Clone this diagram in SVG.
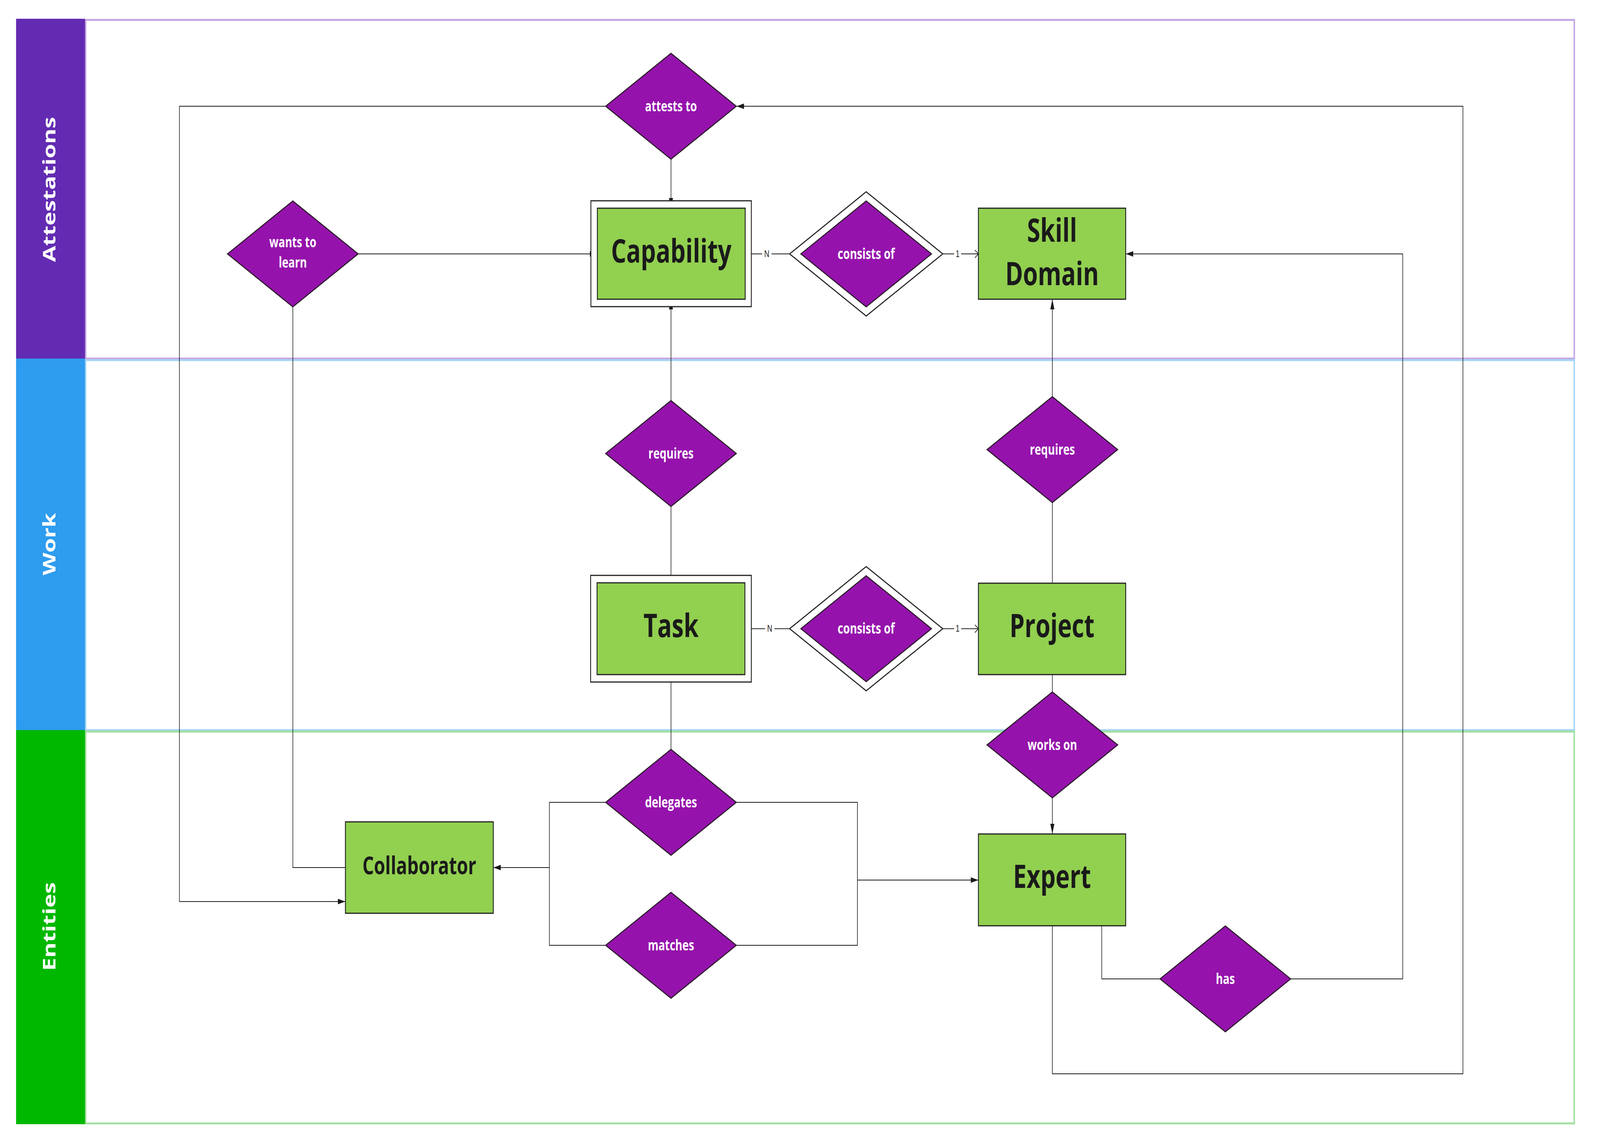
<svg xmlns="http://www.w3.org/2000/svg" width="5475" height="2921" viewBox="0 0 5475 2921" preserveAspectRatio="none">
<style>
svg{width:100vw;height:100vh;display:block}
.hdrtxt{font-family:"Open Sans","Liberation Sans",sans-serif;font-weight:700;font-size:60px;fill:#ffffff;text-anchor:middle}
.ent{fill:#92d050;stroke:#222222;stroke-width:3}
.entout{fill:#ffffff;stroke:#222222;stroke-width:3}
.enttxt{font-family:"Open Sans","Liberation Sans",sans-serif;font-weight:700;font-size:82px;fill:#1a1a1a;text-anchor:middle}
.rel{fill:#9513ac;stroke:#2a1a2a;stroke-width:3}
.relout{fill:#ffffff;stroke:#222222;stroke-width:3}
.reltxt{font-family:"Open Sans","Liberation Sans",sans-serif;font-weight:700;font-size:37px;fill:#ffffff;text-anchor:middle}
.con{fill:none;stroke:#1a1a1a;stroke-width:2}
.card{font-family:"Liberation Sans",Arial,sans-serif;font-size:24px;fill:#1a1a1a;text-anchor:middle}
</style>
<defs>
<marker id="arr" markerUnits="userSpaceOnUse" markerWidth="26" markerHeight="14" refX="26" refY="7" orient="auto" viewBox="0 0 26 14">
<path d="M0,0 L26,7 L0,14 z" fill="#1a1a1a"/>
</marker>
<marker id="open" markerUnits="userSpaceOnUse" markerWidth="14" markerHeight="22" refX="13" refY="11" orient="auto" viewBox="0 0 14 22">
<path d="M1,1 L13,11 L1,21" fill="none" stroke="#1a1a1a" stroke-width="2"/>
</marker>
</defs>
<rect width="5475" height="2921" fill="#ffffff"/>

<g id="lanes">
<g id="lane-attestations">
<rect x="293" y="51" width="5094" height="867" fill="none" stroke="#c4a6e2" stroke-width="5"/>
<rect x="55" y="48" width="236" height="870" fill="#632bb2"/>
<text class="hdrtxt" transform="translate(168,485) rotate(-90)" y="22">Attestations</text>
</g>
<g id="lane-work">
<rect x="293" y="922" width="5094" height="947" fill="none" stroke="#a8d6f6" stroke-width="5"/>
<rect x="55" y="918" width="236" height="951" fill="#2e9cef"/>
<text class="hdrtxt" transform="translate(168,1393) rotate(-90)" y="22">Work</text>
</g>
<g id="lane-entities">
<rect x="293" y="1873" width="5094" height="1003" fill="none" stroke="#a0e0a0" stroke-width="5"/>
<rect x="55" y="1869" width="236" height="1009" fill="#00b800"/>
<text class="hdrtxt" transform="translate(168,2372) rotate(-90)" y="22">Entities</text>
</g>
</g>

<g id="connectors">
<path class="con" d="M2296,408 L2296,533" marker-end="url(#arr)"/>
<path class="con" d="M2072,272 L614,272 L614,2308 L1182,2308" marker-end="url(#arr)"/>
<path class="con" d="M3601,2370 L3601,2749 L5006,2749 L5006,272 L2520,272" marker-end="url(#arr)"/>
<path class="con" d="M1226,650 L2044,650" marker-end="url(#arr)"/>
<path class="con" d="M1002,786 L1002,2221 L1182,2221"/>
<path class="con" d="M2571,650 L2608,650"/>
<path class="con" d="M2640,650 L2702,650"/>
<text class="card" x="2624" y="658">N</text>
<path class="con" d="M3226,650 L3265,650"/>
<text class="card" x="3277" y="658">1</text>
<path class="con" d="M3289,650 L3348,650" marker-end="url(#open)"/>
<path class="con" d="M2296,1025 L2296,766" marker-end="url(#arr)"/>
<path class="con" d="M2296,1297 L2296,1492"/>
<path class="con" d="M3601,1015 L3601,766" marker-end="url(#arr)"/>
<path class="con" d="M3601,1287 L3601,1493"/>
<path class="con" d="M2571,1609.5 L2618,1609.5"/>
<path class="con" d="M2650,1609.5 L2702,1609.5"/>
<text class="card" x="2634" y="1617.5">N</text>
<path class="con" d="M3226,1609.5 L3265,1609.5"/>
<text class="card" x="3277" y="1617.5">1</text>
<path class="con" d="M3289,1609.5 L3348,1609.5" marker-end="url(#open)"/>
<path class="con" d="M3601,1727 L3601,1771"/>
<path class="con" d="M3601,2043 L3601,2135" marker-end="url(#arr)"/>
<path class="con" d="M2296,1746 L2296,1918"/>
<path class="con" d="M2072,2054 L1880,2054 L1880,2420 L2072,2420"/>
<path class="con" d="M1880,2221 L1688,2221" marker-end="url(#arr)"/>
<path class="con" d="M2520,2054 L2934,2054 L2934,2420 L2520,2420"/>
<path class="con" d="M2934,2253 L3348,2253" marker-end="url(#arr)"/>
<path class="con" d="M3770,2370 L3770,2506 L3969,2506"/>
<path class="con" d="M4417,2506 L4800,2506 L4800,650 L3852,650" marker-end="url(#arr)"/>
</g>

<g id="node-attests-to">
<polygon class="rel" points="2072.5,272 2296,136.5 2519.5,272 2296,407.5"/>
<text class="reltxt" x="2296" y="285">attests to</text>
</g>
<g id="node-wants-to-learn">
<polygon class="rel" points="778.5,650 1002,514.5 1225.5,650 1002,785.5"/>
<text class="reltxt" x="1002" y="633">wants to</text>
<text class="reltxt" x="1002" y="685">learn</text>
</g>
<g id="node-capability">
<rect class="entout" x="2022" y="514" width="549" height="271"/>
<rect class="ent" x="2044" y="533" width="506" height="233"/>
<text class="enttxt" x="2297" y="672">Capability</text>
</g>
<g id="node-consists-of-1">
<polygon class="relout" points="2702,650 2964,491 3226,650 2964,809"/>
<polygon class="rel" points="2740.5,650 2964,514.5 3187.5,650 2964,785.5"/>
<text class="reltxt" x="2964" y="663">consists of</text>
</g>
<g id="node-skill-domain">
<rect class="ent" x="3348" y="533" width="504" height="233"/>
<text class="enttxt" x="3600" y="619">Skill</text>
<text class="enttxt" x="3600" y="730">Domain</text>
</g>
<g id="node-requires-1">
<polygon class="rel" points="2072.5,1161 2296,1025.5 2519.5,1161 2296,1296.5"/>
<text class="reltxt" x="2296" y="1174">requires</text>
</g>
<g id="node-requires-2">
<polygon class="rel" points="3377.5,1151 3601,1015.5 3824.5,1151 3601,1286.5"/>
<text class="reltxt" x="3601" y="1164">requires</text>
</g>
<g id="node-task">
<rect class="entout" x="2021" y="1473" width="550" height="273"/>
<rect class="ent" x="2043" y="1492" width="506" height="235"/>
<text class="enttxt" x="2296" y="1631">Task</text>
</g>
<g id="node-consists-of-2">
<polygon class="relout" points="2702,1609.5 2964,1450.5 3226,1609.5 2964,1768.5"/>
<polygon class="rel" points="2740.5,1609.5 2964,1474 3187.5,1609.5 2964,1745"/>
<text class="reltxt" x="2964" y="1622.5">consists of</text>
</g>
<g id="node-project">
<rect class="ent" x="3348" y="1493" width="504" height="234"/>
<text class="enttxt" x="3600" y="1631">Project</text>
</g>
<g id="node-works-on">
<polygon class="rel" points="3377.5,1907 3601,1771.5 3824.5,1907 3601,2042.5"/>
<text class="reltxt" x="3601" y="1920">works on</text>
</g>
<g id="node-delegates">
<polygon class="rel" points="2072.5,2054 2296,1918.5 2519.5,2054 2296,2189.5"/>
<text class="reltxt" x="2296" y="2067">delegates</text>
</g>
<g id="node-matches">
<polygon class="rel" points="2072.5,2420 2296,2284.5 2519.5,2420 2296,2555.5"/>
<text class="reltxt" x="2296" y="2433">matches</text>
</g>
<g id="node-collaborator">
<rect class="ent" x="1182" y="2104" width="506" height="234"/>
<text class="enttxt" x="1435" y="2238" style="font-size:62px">Collaborator</text>
</g>
<g id="node-expert">
<rect class="ent" x="3348" y="2135" width="504" height="235"/>
<text class="enttxt" x="3600" y="2273">Expert</text>
</g>
<g id="node-has">
<polygon class="rel" points="3969.5,2506 4193,2370.5 4416.5,2506 4193,2641.5"/>
<text class="reltxt" x="4193" y="2519">has</text>
</g>
</svg>
